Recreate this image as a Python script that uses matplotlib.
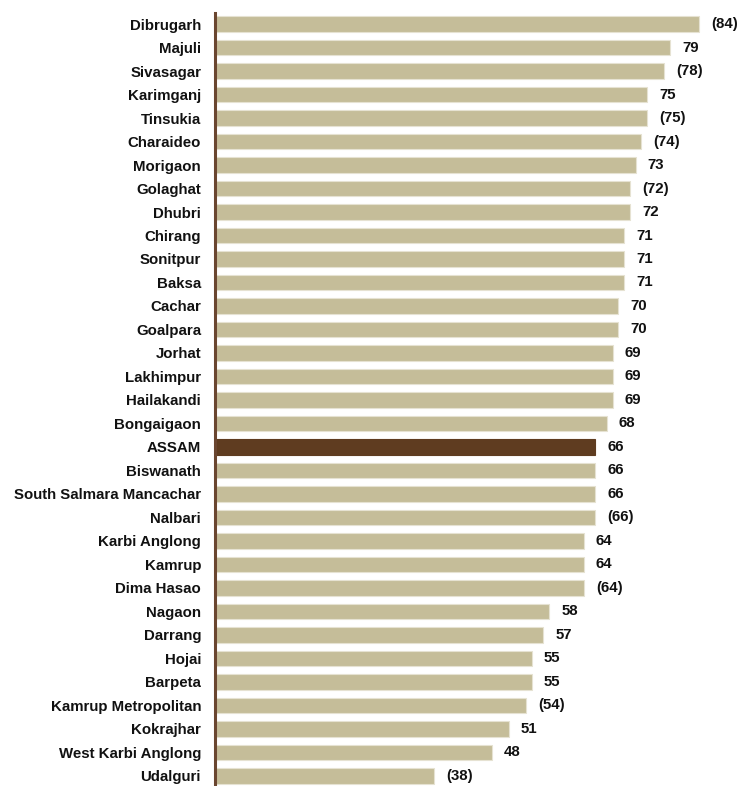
import matplotlib
matplotlib.use("Agg")
import matplotlib.pyplot as plt

districts = ["Dibrugarh", "Majuli", "Sivasagar", "Karimganj", "Tinsukia", "Charaideo",
             "Morigaon", "Golaghat", "Dhubri", "Chirang", "Sonitpur", "Baksa", "Cachar",
             "Goalpara", "Jorhat", "Lakhimpur", "Hailakandi", "Bongaigaon", "ASSAM",
             "Biswanath", "South Salmara Mancachar", "Nalbari", "Karbi Anglong", "Kamrup",
             "Dima Hasao", "Nagaon", "Darrang", "Hojai", "Barpeta", "Kamrup Metropolitan",
             "Kokrajhar", "West Karbi Anglong", "Udalguri"]
values = [84, 79, 78, 75, 75, 74, 73, 72, 72, 71, 71, 71, 70, 70, 69, 69, 69, 68, 66,
          66, 66, 66, 64, 64, 64, 58, 57, 55, 55, 54, 51, 48, 38]
in_parens = [True, False, True, False, True, True, False, True, False, False, False, False,
             False, False, False, False, False, False, False, False, False, True, False,
             False, True, False, False, False, False, True, False, False, True]
highlight = "ASSAM"

plt.rcParams['font.family'] = ['Liberation Sans', 'DejaVu Sans']

W, H = 741, 786
fig = plt.figure(figsize=(W / 100, H / 100), dpi=100)
left_px, right_px, top_px, bottom_px = 215, 741, 13, 786
ax = fig.add_axes([left_px / W, 1 - bottom_px / H, (right_px - left_px) / W, (bottom_px - top_px) / H])

tan = "#C5BD99"
brown = "#5F3C20"
colors = [brown if d == highlight else tan for d in districts]
edges = [brown if d == highlight else "#E6E2D2" for d in districts]
y = list(range(len(districts)))
ax.barh(y, values, height=0.66, color=colors, edgecolor=edges, linewidth=0.8, zorder=2)

for yi, v, p in zip(y, values, in_parens):
    lab = f"({v})" if p else f"{v}"
    ax.text(v + 2.1, yi, lab, va="center", ha="left", fontsize=10.8, fontweight="bold",
            color="#111111")

ax.set_yticks(y)
ax.set_yticklabels(districts, fontsize=10.8, fontweight="bold", color="#111111")
ax.tick_params(axis="y", length=0, pad=10)
ax.set_xticks([])
ax.set_xlim(0, (right_px - left_px - 1) / 5.75)
ax.set_ylim(len(districts) - 1 + 0.43, -0.47)

for s in ["top", "right", "bottom"]:
    ax.spines[s].set_visible(False)
ax.spines["left"].set_color("#6A4630")
ax.spines["left"].set_linewidth(2.2)
ax.spines["left"].set_zorder(3)

fig.savefig("out.png", dpi=100)
